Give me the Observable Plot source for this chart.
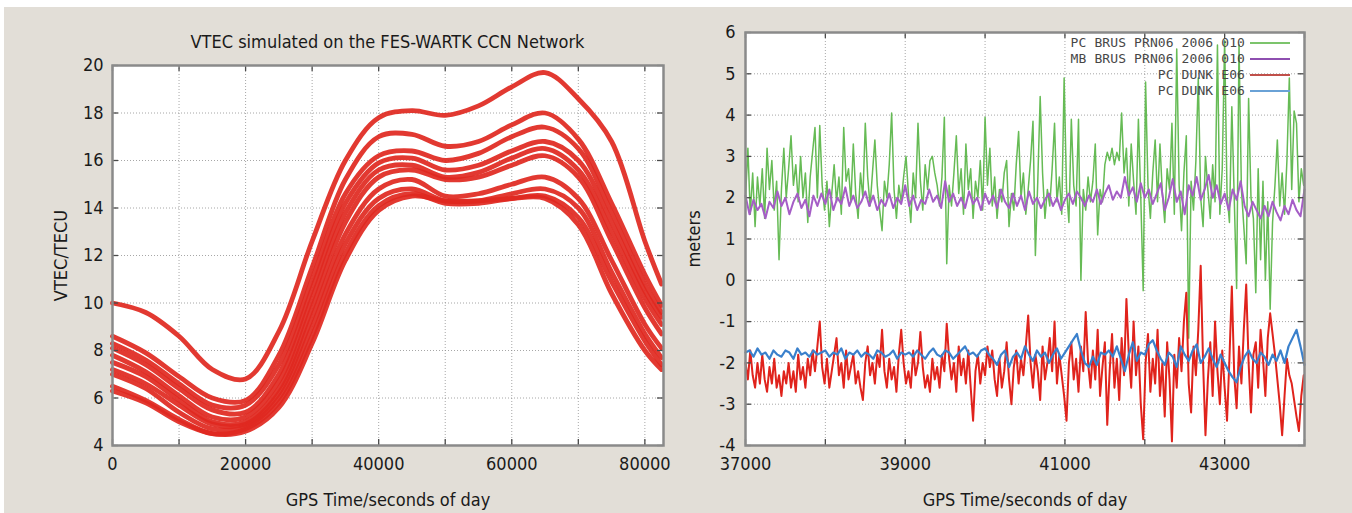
<!DOCTYPE html>
<html><head><meta charset="utf-8">
<script src="https://cdn.jsdelivr.net/npm/d3@7"></script>
<script src="https://cdn.jsdelivr.net/npm/@observablehq/plot@0.6"></script>
<style>
html,body{margin:0;padding:0;background:#fff;}
#page{position:relative;width:1352px;height:513px;overflow:hidden;background:#fff;}
#bg{position:absolute;left:4px;top:7px;right:0;bottom:0;background:#e2ded7;}
.chart{position:absolute;top:0;}
#left{left:0;}
#right{left:672px;}
.title{position:absolute;top:33px;left:112px;width:551px;text-align:center;font-size:18px;line-height:18px;color:#1a1a1a;
  font-family:"DejaVu Sans Condensed","Liberation Sans Narrow","Arial Narrow",sans-serif;font-stretch:condensed;white-space:nowrap;}
.legend{position:absolute;left:1000px;top:35px;width:300px;}
.legend .row{position:relative;height:16px;}
.legend .lab{position:absolute;right:55px;top:0;line-height:16px;font-family:"DejaVu Sans Mono",monospace;font-size:13px;color:#474747;letter-spacing:0.1px;white-space:pre;}
.legend .sw{position:absolute;left:250px;width:40px;top:7px;height:0;border-top:2px solid;}
</style></head>
<body><div id="page"><div id="bg"></div>
<div class="chart" id="left"></div>
<div class="chart" id="right"></div>
<div class="title">VTEC simulated on the FES-WARTK CCN Network</div>
<div class="legend" id="legend"></div>
</div>
<script>
// ---------- Left chart data: VTEC (TECU) per station vs GPS time ----------
const vtecTimes = [0,5000,10000,15000,20000,25000,30000,35000,40000,45000,50000,55000,60000,65000,70000,75000,80000,82500];
const vtecSta1  = [10.0,9.6,8.6,7.2,6.8,8.8,12.6,16.0,17.8,18.1,17.9,18.3,19.1,19.7,18.6,16.8,12.6,10.8];
const vtecSta2  = [8.6,7.9,6.9,6.0,5.9,7.8,11.5,15.2,17.0,17.1,16.6,16.8,17.5,18.0,16.9,14.2,11.2,9.9];
const vtecSta3  = [8.3,7.6,6.6,5.7,5.7,7.4,11.0,14.6,16.2,16.4,16.0,16.3,17.0,17.4,16.5,13.8,10.8,9.6];
const vtecSta4  = [8.1,7.4,6.4,5.5,5.4,7.0,10.6,14.2,15.9,16.1,15.6,15.8,16.4,16.8,16.0,13.4,10.5,9.4];
const vtecSta5  = [7.8,7.1,6.1,5.2,5.2,6.7,10.2,13.8,15.6,15.8,15.3,15.5,16.1,16.5,15.6,13.0,10.2,9.1];
const vtecSta6  = [7.5,6.9,5.9,5.0,5.0,6.4,9.8,13.4,15.3,15.6,15.2,15.3,15.8,16.2,15.3,12.6,9.8,8.7];
const vtecSta7  = [7.2,6.6,5.7,4.9,4.9,6.2,9.4,12.9,14.8,15.2,14.5,14.6,15.0,15.3,14.4,11.8,9.1,8.1];
const vtecSta8  = [7.0,6.4,5.4,4.7,4.8,6.0,9.0,12.5,14.4,14.8,14.3,14.3,14.6,14.8,14.0,11.3,8.7,7.7];
const vtecSta9  = [6.5,5.9,5.1,4.5,4.7,5.8,8.6,12.1,14.1,14.6,14.2,14.2,14.4,14.5,13.6,10.9,8.4,7.4];
const vtecSta10 = [6.3,5.8,5.0,4.5,4.6,5.6,8.3,11.8,13.9,14.5,14.3,14.3,14.4,14.4,13.3,10.4,8.0,7.2];
const leftXLabels = [0,20000,40000,60000,80000];
const leftXGrid = [0,10000,20000,30000,40000,50000,60000,70000,80000];
const leftYTicks = [4,6,8,10,12,14,16,18,20];

// ---------- Right chart data: residuals (meters) vs GPS time ----------
const pcBrusStart = 37000, pcBrusStep = 30;
const pcBrus = [2.0,3.2,1.6,2.6,1.3,2.5,1.8,2.7,1.5,3.2,2.2,2.9,1.7,2.4,0.5,2.2,3.2,2.0,2.7,3.5,
2.3,2.8,1.9,3.0,2.0,2.6,1.4,2.5,3.1,3.7,2.0,3.75,2.3,1.7,2.4,1.3,2.1,2.8,1.9,2.5,
1.6,3.7,2.4,2.7,1.9,3.3,2.1,1.5,2.6,2.0,3.8,2.5,1.8,2.6,3.4,2.3,1.7,1.2,2.4,2.0,
2.8,4.05,2.2,1.5,2.3,1.9,2.5,3.0,2.1,1.4,2.6,2.0,3.8,2.4,1.7,2.8,2.2,2.9,3.0,2.6,
2.3,1.8,2.5,3.95,0.4,2.3,1.8,2.6,3.5,2.1,2.7,1.6,3.3,2.2,2.7,1.5,2.4,2.0,2.9,1.7,
3.95,2.3,3.2,1.8,2.5,1.5,2.2,1.9,2.6,2.9,1.3,2.1,1.7,2.8,3.6,2.0,2.6,1.6,2.2,2.9,
3.85,0.6,2.4,4.45,2.6,1.5,2.2,1.8,2.7,3.8,1.9,2.5,1.6,4.9,2.2,1.4,3.9,2.3,1.8,3.9,
0.0,2.2,1.7,2.5,1.9,2.4,3.3,1.1,2.2,1.9,2.8,3.1,2.9,3.2,2.8,3.1,2.9,4.05,2.6,3.2,
1.8,3.3,2.4,1.6,3.9,2.0,-0.25,4.8,2.3,1.5,2.6,3.4,1.9,3.3,2.1,1.4,2.7,2.2,3.8,1.6,
5.6,2.3,1.2,2.6,3.5,-1.4,2.4,1.7,2.9,4.9,2.0,1.3,3.0,2.2,1.5,2.8,1.9,5.7,1.6,2.7,
5.8,2.1,1.4,4.2,2.0,-0.2,5.7,2.2,1.3,0.4,4.4,2.0,1.5,-0.3,2.7,0.5,2.4,0.0,1.9,-0.7,
1.4,2.3,3.4,1.8,2.6,1.6,2.9,4.9,2.2,4.1,3.8,1.9,2.7,2.3];
const mbBrusStart = 37000, mbBrusStep = 50;
const mbBrus = [2.05,1.6,1.95,1.7,1.85,1.5,1.9,1.75,2.15,1.8,2.0,1.6,1.9,2.1,1.75,1.95,1.55,2.05,1.8,2.1,
1.85,2.2,1.7,2.0,1.85,2.25,1.8,2.05,1.75,1.9,2.15,1.8,2.05,1.7,1.95,1.8,2.1,1.75,2.0,1.85,
2.3,1.8,2.05,1.7,1.95,1.85,2.2,1.9,2.05,1.75,2.4,1.9,2.1,1.8,2.0,1.75,2.15,1.85,2.0,1.7,
2.1,1.85,2.05,1.75,2.2,1.9,1.75,2.1,1.8,2.05,1.7,2.15,1.85,2.0,1.75,1.95,2.1,1.8,2.0,1.7,
1.95,2.1,1.85,2.15,2.0,1.8,2.05,1.9,2.2,1.85,2.1,2.3,1.95,2.15,2.0,2.5,2.05,2.25,1.9,2.35,
2.0,2.2,1.85,2.1,2.35,1.7,2.0,2.45,1.9,2.15,1.6,2.3,2.05,2.5,1.95,2.2,2.55,2.0,2.3,1.85,
2.1,1.7,2.2,1.95,2.4,1.8,1.55,1.9,1.7,1.5,1.8,1.55,1.9,1.65,1.45,1.8,1.6,1.95,1.7,1.55,2.2];
const pcDunkStart = 37000, pcDunkStep = 30;
const pcDunk = [-2.0,-2.4,-1.7,-2.3,-2.6,-2.0,-2.5,-1.8,-2.4,-2.7,-2.1,-2.5,-1.9,-2.6,-2.3,-2.8,-2.2,-2.5,-2.0,-2.6,
-2.2,-2.7,-1.8,-2.4,-2.1,-2.6,-1.9,-2.3,-1.7,-2.2,-1.6,-1.0,-2.1,-2.5,-1.9,-2.6,-2.2,-1.8,-1.4,-2.3,
-2.0,-2.6,-1.7,-2.4,-2.1,-1.8,-2.5,-2.2,-2.6,-2.9,-2.0,-1.6,-2.3,-2.0,-2.5,-1.8,-2.1,-1.2,-2.2,-2.6,
-1.9,-2.4,-2.1,-2.7,-1.8,-1.2,-2.0,-2.5,-2.2,-2.6,-1.7,-2.3,-2.0,-1.25,-2.1,-2.6,-2.3,-2.7,-1.9,-2.4,
-2.1,-2.6,-1.8,-2.2,-1.05,-1.9,-2.4,-2.0,-2.7,-1.6,-2.3,-1.9,-2.5,-1.7,-2.6,-3.4,-2.2,-1.8,-2.5,-2.0,
-2.3,-1.6,-2.1,-1.7,-2.4,-2.8,-1.9,-2.6,-2.2,-1.5,-2.4,-3.0,-2.1,-1.7,-2.5,-1.9,-2.3,-1.6,-0.85,-2.0,
-2.6,-1.8,-2.2,-2.9,-1.6,-2.4,-2.0,-1.4,-2.2,-1.0,-2.5,-1.8,-2.3,-2.8,-3.4,-2.0,-1.5,-2.4,-1.9,-2.7,
-1.6,-2.2,-0.77,-2.0,-2.6,-1.7,-2.4,-1.2,-2.8,-2.1,-1.5,-3.5,-2.2,-1.3,-2.6,-1.9,-2.9,-1.4,-2.3,-0.45,
-1.8,-2.6,-1.0,-2.3,-1.6,-3.0,-3.85,-2.0,-1.3,-2.7,-1.9,-2.5,-1.2,-2.8,-2.0,-3.3,-1.5,-2.4,-3.9,-1.8,
-2.6,-1.4,-2.2,-1.0,-0.3,-2.5,-3.2,-1.6,-2.3,-1.2,0.35,-2.0,-3.75,-2.4,-1.5,-2.8,-1.0,-2.2,-3.0,-1.7,
-2.6,-3.4,-1.9,-0.15,-2.3,-3.1,-1.6,-2.5,-1.2,-0.1,-2.0,-3.2,-1.8,-1.5,-2.6,-1.2,-1.9,-2.8,-1.4,-0.8,
-1.3,-1.8,-2.4,-3.0,-3.75,-2.8,-1.9,-2.3,-2.5,-2.9,-3.3,-3.65,-2.8,-2.3];
const pcDunk2Start = 37000, pcDunk2Step = 50;
const pcDunk2 = [-1.75,-1.7,-1.85,-1.65,-1.8,-1.75,-1.9,-1.7,-1.8,-1.85,-1.7,-1.75,-1.9,-1.65,-1.8,-1.75,-1.85,-1.7,-1.8,-1.75,
-1.7,-1.85,-1.75,-1.8,-1.65,-1.9,-1.75,-1.8,-1.7,-1.85,-1.75,-1.8,-1.9,-1.7,-1.75,-1.85,-1.8,-1.7,-1.9,-1.75,
-1.8,-1.75,-1.85,-1.7,-1.8,-1.9,-1.75,-1.65,-1.8,-1.85,-1.7,-1.75,-1.9,-1.8,-1.7,-1.6,-1.8,-1.75,-1.85,-1.7,
-1.65,-1.8,-1.9,-2.05,-1.8,-1.7,-2.1,-1.85,-1.75,-1.9,-1.6,-1.8,-1.95,-1.7,-1.85,-1.75,-2.0,-1.8,-1.65,-1.9,
-1.75,-1.6,-1.45,-1.3,-1.7,-2.0,-2.1,-1.85,-2.05,-1.75,-1.8,-1.7,-1.85,-1.6,-1.9,-2.2,-1.8,-1.5,-1.95,-1.75,
-1.8,-1.55,-1.45,-1.7,-1.9,-2.05,-1.75,-1.85,-2.1,-1.6,-1.8,-1.95,-1.7,-1.55,-2.0,-1.85,-1.65,-1.9,-2.1,-1.8,
-2.0,-2.2,-2.35,-2.47,-2.1,-1.85,-1.7,-1.9,-2.0,-1.75,-1.85,-2.05,-1.8,-1.95,-1.7,-2.0,-1.6,-1.4,-1.2,-1.6,-2.05];
const seriesNames = ["PC BRUS PRN06 2006 010","MB BRUS PRN06 2006 010","PC DUNK E06","PC DUNK E06"];
const seriesColors = ["#66bb55","#a55ec6","#e0231c","#3a80cc"];
const legendColors = ["#7cc46c","#8e4fb0","#c0504a","#6aa2d6"];
const rightXLabels = [37000,39000,41000,43000];
const rightXGrid = [37000,38000,39000,40000,41000,42000,43000,44000];
const rightYTicks = [-4,-3,-2,-1,0,1,2,3,4,5,6];

// ---------- build ----------
const FONT = '"DejaVu Sans Condensed","Liberation Sans Narrow","Arial Narrow",sans-serif';
const fmt = d3.format("d");
const style = {fontFamily: FONT, fontSize: "18px", fontStretch: "condensed", color: "#1a1a1a", background: "transparent", overflow: "visible"};
const gridStyle = {stroke: "#8a8a8a", strokeOpacity: 0.75, strokeDasharray: "1,2", strokeWidth: 1};
const tickStyle = {stroke: "#4a4a4a", strokeWidth: 1.3};

const vtecStations = [vtecSta1,vtecSta2,vtecSta3,vtecSta4,vtecSta5,vtecSta6,vtecSta7,vtecSta8,vtecSta9,vtecSta10];
const vtecRows = vtecStations.flatMap((arr, s) => arr.map((v, i) => ({station: s, t: vtecTimes[i], v})));

const H = 513, top1 = 65, bottom = 445;
const innerH1 = bottom - top1, innerW1 = 663 - 112;
const left = Plot.plot({
  width: 680, height: H, marginTop: top1, marginBottom: H - bottom, marginLeft: 112, marginRight: 17,
  style,
  x: {domain: [0, 82800]},
  y: {domain: [4, 20]},
  marks: [
    Plot.frame({fill: "#fff", stroke: null}),
    Plot.gridX(leftXGrid, gridStyle),
    Plot.gridY(leftYTicks, gridStyle),
    Plot.line(vtecRows, {x: "t", y: "v", z: "station", stroke: "#df2820", strokeWidth: 4.8, strokeOpacity: 0.92, curve: "catmull-rom"}),
    Plot.tickX(leftXGrid, {x: d => d, insetTop: innerH1 - 6, ...tickStyle}),
    Plot.tickX(leftXGrid, {x: d => d, insetBottom: innerH1 - 6, ...tickStyle}),
    Plot.tickY(leftYTicks, {y: d => d, insetRight: innerW1 - 6, ...tickStyle}),
    Plot.tickY(leftYTicks, {y: d => d, insetLeft: innerW1 - 6, ...tickStyle}),
    Plot.frame({stroke: "#8a8a8a", strokeWidth: 2.5}),
    Plot.axisX(leftXLabels, {tickSize: 0, tickPadding: 12, tickFormat: fmt, label: "GPS Time/seconds of day", labelAnchor: "center", labelArrow: "none", labelOffset: 60}),
    Plot.axisY(leftYTicks, {tickSize: 0, tickPadding: 9, tickFormat: fmt, label: "VTEC/TECU", labelAnchor: "center", labelArrow: "none", labelOffset: 58})
  ]
});
document.getElementById("left").appendChild(left);

const mk = (arr, start, step, s) => arr.map((v, i) => ({t: start + i * step, v, s}));
const top2 = 32;
const innerH2 = bottom - top2, innerW2 = 1304 - 745;
const right = Plot.plot({
  width: 680, height: H, marginTop: top2, marginBottom: H - bottom, marginLeft: 73, marginRight: 48,
  style,
  x: {domain: [37000, 44000]},
  y: {domain: [-4, 6]},
  marks: [
    Plot.frame({fill: "#fff", stroke: null}),
    Plot.gridX(rightXGrid, gridStyle),
    Plot.gridY(rightYTicks, gridStyle),
    Plot.line(mk(pcBrus, pcBrusStart, pcBrusStep, 0), {x: "t", y: "v", stroke: seriesColors[0], strokeWidth: 1.5}),
    Plot.line(mk(mbBrus, mbBrusStart, mbBrusStep, 1), {x: "t", y: "v", stroke: seriesColors[1], strokeWidth: 2}),
    Plot.line(mk(pcDunk, pcDunkStart, pcDunkStep, 2), {x: "t", y: "v", stroke: seriesColors[2], strokeWidth: 2}),
    Plot.line(mk(pcDunk2, pcDunk2Start, pcDunk2Step, 3), {x: "t", y: "v", stroke: seriesColors[3], strokeWidth: 2.2}),
    Plot.tickX(rightXGrid, {x: d => d, insetTop: innerH2 - 6, ...tickStyle}),
    Plot.tickX(rightXGrid, {x: d => d, insetBottom: innerH2 - 6, ...tickStyle}),
    Plot.tickY(rightYTicks, {y: d => d, insetRight: innerW2 - 6, ...tickStyle}),
    Plot.tickY(rightYTicks, {y: d => d, insetLeft: innerW2 - 6, ...tickStyle}),
    Plot.frame({stroke: "#8a8a8a", strokeWidth: 2.5}),
    Plot.axisX(rightXLabels, {tickSize: 0, tickPadding: 12, tickFormat: fmt, label: "GPS Time/seconds of day", labelAnchor: "center", labelArrow: "none", labelOffset: 60}),
    Plot.axisY(rightYTicks, {tickSize: 0, tickPadding: 10, tickFormat: d => String(d), label: "meters", labelAnchor: "center", labelArrow: "none", labelOffset: 58})
  ]
});
document.getElementById("right").appendChild(right);

const lg = document.getElementById("legend");
seriesNames.forEach((n, i) => {
  const row = document.createElement("div"); row.className = "row";
  const lab = document.createElement("span"); lab.className = "lab"; lab.textContent = n;
  const sw = document.createElement("span"); sw.className = "sw"; sw.style.borderTopColor = legendColors[i];
  row.appendChild(lab); row.appendChild(sw); lg.appendChild(row);
});
</script>
</body></html>
